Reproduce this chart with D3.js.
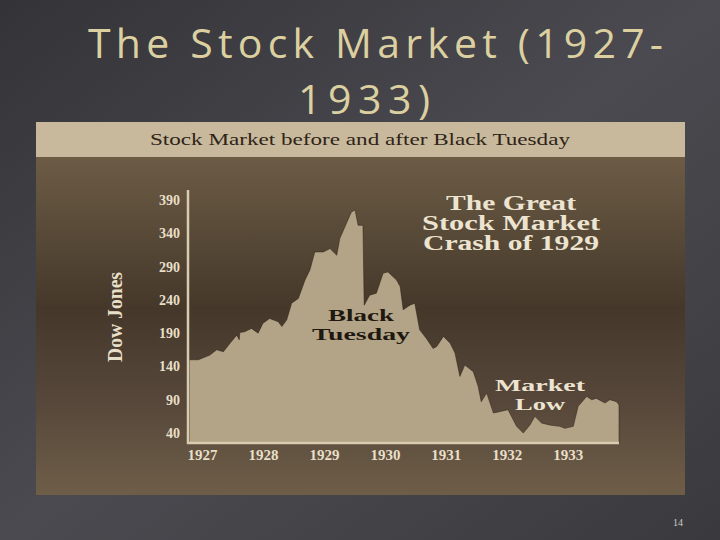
<!DOCTYPE html><html><head><meta charset="utf-8"><script src="https://cdn.jsdelivr.net/npm/d3@7"></script>
<style>body{margin:0;background:#444}</style></head><body><svg id="c" width="720" height="540"></svg>
<script>
const years=[1927.02,1927.17,1927.36,1927.47,1927.58,1927.69,1927.80,1927.84,1927.85,1927.93,1928.04,1928.15,1928.23,1928.34,1928.48,1928.54,1928.62,1928.70,1928.81,1928.92,1929.00,1929.08,1929.22,1929.33,1929.44,1929.49,1929.68,1929.74,1929.79,1929.87,1929.89,1929.98,1930.09,1930.20,1930.28,1930.42,1930.48,1930.53,1930.64,1930.72,1930.80,1930.91,1931.02,1931.08,1931.19,1931.30,1931.38,1931.46,1931.54,1931.68,1931.76,1931.81,1931.90,1932.01,1932.11,1932.25,1932.39,1932.50,1932.61,1932.69,1932.80,1932.93,1933.10,1933.18,1933.32,1933.40,1933.54,1933.62,1933.70,1933.84,1933.92,1934.03,1934.07];
const dow=[150,150,157,165,162,175,187,180,191,192,197,190,205,212,207,200,210,235,242,270,285,312,312,317,307,332,372,375,352,352,232,247,250,280,282,270,260,225,232,235,195,182,167,170,185,175,160,125,142,132,110,87,100,70,72,75,50,40,52,65,55,52,50,47,50,80,95,90,92,85,90,87,82];
const yTicks=[40,90,140,190,240,290,340,390];
const yearLabels=["1927","1928","1929","1930","1931","1932","1933"];
const svg=d3.select("#c");
const defs=svg.append("defs");
const g1=defs.append("linearGradient").attr("id","bg").attr("x1",0).attr("y1",0).attr("x2",1).attr("y2",1);
g1.append("stop").attr("offset",0).attr("stop-color","#333338");
g1.append("stop").attr("offset",0.5).attr("stop-color","#4a4a50");
g1.append("stop").attr("offset",1).attr("stop-color","#3a3a3e");
svg.append("rect").attr("width",720).attr("height",540).attr("fill","url(#bg)");
const g2=defs.append("linearGradient").attr("id","pb").attr("x1",0).attr("y1",0).attr("x2",0).attr("y2",1);
g2.append("stop").attr("offset",0).attr("stop-color","#75644c");
g2.append("stop").attr("offset",0.5).attr("stop-color","#45382a");
g2.append("stop").attr("offset",0.75).attr("stop-color","#56473a");
g2.append("stop").attr("offset",1).attr("stop-color","#6e5e48");
svg.append("rect").attr("x",36).attr("y",122).attr("width",649).attr("height",373).attr("fill","url(#pb)");
svg.append("rect").attr("x",36).attr("y",122).attr("width",649).attr("height",35).attr("fill","#c9b99c");
svg.append("text").attr("x",150).attr("y",145).attr("font-family","Liberation Serif").attr("font-size",16).attr("fill","#2e2418").attr("textLength",420).attr("lengthAdjust","spacingAndGlyphs").text("Stock Market before and after Black Tuesday");
const ttl=svg.append("text").attr("font-family","Open Sans").attr("font-size",41).attr("fill","#dcd0a0");
ttl.append("tspan").attr("x",88).attr("y",58).attr("textLength",575).text("The Stock Market (1927-");
ttl.append("tspan").attr("x",298).attr("y",114).attr("textLength",132).text("1933)");
const x=d3.scaleLinear().domain([1927,1934.07]).range([188,619]);
const y=d3.scaleLinear().domain([40,390]).range([433,200]);
const area=d3.area().x((d,i)=>x(years[i])).y0(y(25)).y1(d=>y(d));
svg.append("path").datum(dow).attr("d",area).attr("fill","#b3a487").attr("stroke","#2a2018").attr("stroke-width",1).attr("stroke-opacity",0.5);
svg.append("path").attr("d",`M${x(1927)},190V${y(25)}H${x(1934.07)}`).attr("fill","none").attr("stroke","#d8ccb0").attr("stroke-width",2.5);
const ya=svg.append("g").attr("transform","translate(180,0)").call(d3.axisLeft(y).tickValues(yTicks).tickSize(0).tickPadding(0));
ya.select(".domain").remove();
ya.selectAll("text").attr("font-family","Liberation Serif").attr("font-weight","bold").attr("font-size",14).attr("fill","#e8dfc8");
const xa=svg.append("g").attr("transform",`translate(0,${y(25)})`).call(d3.axisBottom(x).tickValues(yearLabels.map(d=>+d+0.23)).tickFormat((d,i)=>yearLabels[i]).tickSize(0).tickPadding(6));
xa.select(".domain").remove();
xa.selectAll("text").attr("font-family","Liberation Serif").attr("font-weight","bold").attr("font-size",15).attr("fill","#e8dfc8");
svg.append("text").attr("transform","translate(122,317) rotate(-90)").attr("text-anchor","middle").attr("font-family","Liberation Serif").attr("font-weight","bold").attr("font-size",22).attr("fill","#e8dfc8").attr("textLength",90).attr("lengthAdjust","spacingAndGlyphs").text("Dow Jones");
const ann=(lines,cx,y0,fill,fs,lh,lens)=>{const t=svg.append("text").attr("text-anchor","middle").attr("font-family","Liberation Serif").attr("font-weight","bold").attr("font-size",fs).attr("fill",fill);lines.forEach((l,i)=>t.append("tspan").attr("x",cx).attr("y",y0+i*lh).attr("textLength",lens[i]).attr("lengthAdjust","spacingAndGlyphs").text(l));};
ann(["The Great","Stock Market","Crash of 1929"],511,210,"#ece4d0",20,20,[130,178,176]);
ann(["Black","Tuesday"],361,321,"#1e1810",17,19,[66,98]);
ann(["Market","Low"],540,391,"#ece4d0",17,19,[90,50]);
svg.append("text").attr("x",678).attr("y",526).attr("text-anchor","middle").attr("font-family","Liberation Serif").attr("font-size",10).attr("fill","#ccc").text("14");
</script></body></html>
